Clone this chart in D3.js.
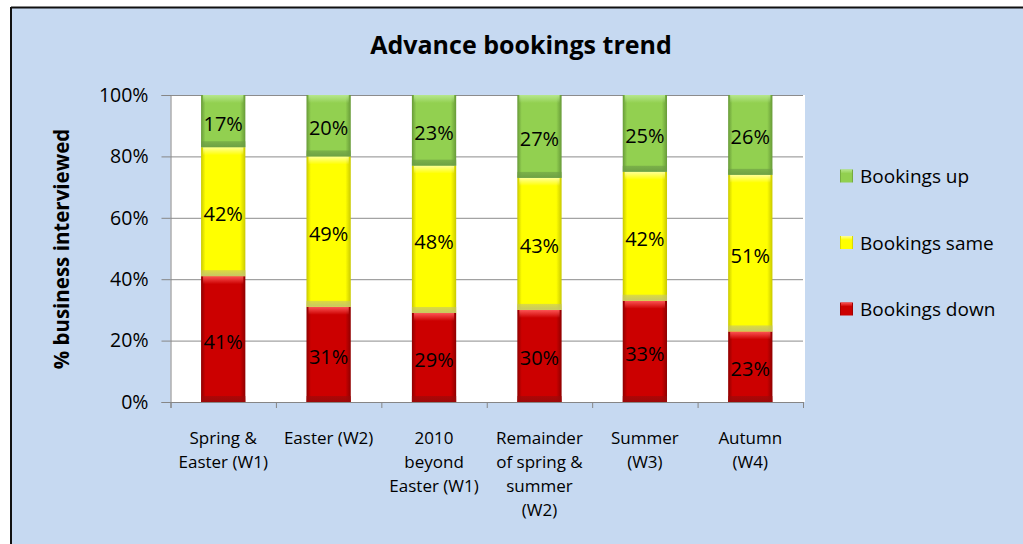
<!DOCTYPE html>
<html>
<head>
<meta charset="utf-8">
<title>Advance bookings trend</title>
<style>
  body { margin: 0; background: #fff; }
  svg { display: block; font-family: "Open Sans", sans-serif; }
  .axis path, .axis line { stroke: #868686; }
  .axis text { fill: #000; }
  .grid line { stroke: #8c8c8c; }
  .grid path { display: none; }
  .val { font-size: 20px; fill: #000; }
  .legend-text { font-size: 19px; }
</style>
</head>
<body>
<svg id="chart" width="1023" height="544"></svg>
<script src="https://cdn.jsdelivr.net/npm/d3@7"></script>
<script>
// data
const categories = ["Spring & Easter (W1)", "Easter (W2)", "2010 beyond Easter (W1)",
                    "Remainder of spring & summer (W2)", "Summer (W3)", "Autumn (W4)"];
const categoryLines = [["Spring &", "Easter (W1)"], ["Easter (W2)"], ["2010", "beyond", "Easter (W1)"],
                       ["Remainder", "of spring &", "summer", "(W2)"], ["Summer", "(W3)"], ["Autumn", "(W4)"]];
const bookingsDown = [41, 31, 29, 30, 33, 23];
const bookingsSame = [42, 49, 48, 43, 42, 51];
const bookingsUp   = [17, 20, 23, 27, 25, 26];
const seriesKeys = ["down", "same", "up"];
const seriesNames = {down: "Bookings down", same: "Bookings same", up: "Bookings up"};
const yTicks = [0, 20, 40, 60, 80, 100];

// look of each series (3D-ish bars)
const styles = {
  down: {base: "#cc0000", dark: "#8e0000", hi: "#ff5a5a", low: "#9a0a0a"},
  same: {base: "#ffff00", dark: "#c9c900", hi: "#ffffa0", low: "#c4c46a"},
  up:   {base: "#92d050", dark: "#679a38", hi: "#b8e890", low: "#6c9e44"}
};

const rows = categories.map((c, i) => ({cat: c, down: bookingsDown[i], same: bookingsSame[i], up: bookingsUp[i]}));
const stacked = d3.stack().keys(seriesKeys)(rows);

const svg = d3.select("#chart");
const W = 1023, H = 544;
const plotLeft = 170.5, plotRight = 803, plotTop = 95, plotBottom = 402;

// background + border
svg.append("rect").attr("x", 11).attr("y", 7).attr("width", W).attr("height", H)
  .attr("fill", "#c6d9f1");
svg.append("line").attr("x1", 11).attr("x2", W).attr("y1", 7.5).attr("y2", 7.5)
  .attr("stroke", "#111").attr("stroke-width", 2);
svg.append("line").attr("x1", 11).attr("x2", 11).attr("y1", 7).attr("y2", H)
  .attr("stroke", "#111").attr("stroke-width", 2);

// gradients
const defs = svg.append("defs");
seriesKeys.forEach(k => {
  const s = styles[k];
  const g = defs.append("linearGradient").attr("id", "h-" + k).attr("x1", 0).attr("x2", 1).attr("y1", 0).attr("y2", 0);
  [[0, s.dark], [0.1, s.base], [0.5, s.base], [0.88, s.base], [1, s.dark]].forEach(([o, c]) =>
    g.append("stop").attr("offset", o).attr("stop-color", c));
  const t = defs.append("linearGradient").attr("id", "t-" + k).attr("x1", 0).attr("x2", 0).attr("y1", 0).attr("y2", 1);
  t.append("stop").attr("offset", 0).attr("stop-color", s.hi).attr("stop-opacity", 0.95);
  t.append("stop").attr("offset", 1).attr("stop-color", s.hi).attr("stop-opacity", 0);
  const b = defs.append("linearGradient").attr("id", "b-" + k).attr("x1", 0).attr("x2", 0).attr("y1", 0).attr("y2", 1);
  b.append("stop").attr("offset", 0).attr("stop-color", s.low).attr("stop-opacity", 0.6);
  b.append("stop").attr("offset", 1).attr("stop-color", s.low).attr("stop-opacity", 0.95);
});

const x = d3.scaleBand().domain(categories).range([plotLeft, plotRight]).paddingInner(0.58).paddingOuter(0.29);
const xEdge = d3.scaleLinear().domain([0, categories.length]).range([plotLeft, plotRight]);
const y = d3.scaleLinear().domain([0, 100]).range([plotBottom, plotTop]);

// plot area
svg.append("rect").attr("x", plotLeft).attr("y", plotTop).attr("width", plotRight - plotLeft + 2)
  .attr("height", plotBottom - plotTop).attr("fill", "#fff");

// gridlines
svg.append("g").attr("class", "grid")
  .attr("transform", `translate(${plotLeft},0)`)
  .call(d3.axisLeft(y).tickValues(yTicks.slice(1)).tickSize(-(plotRight - plotLeft)).tickFormat(""));

// y axis
svg.append("g").attr("class", "axis")
  .attr("transform", `translate(${plotLeft},0)`)
  .call(d3.axisLeft(y).tickValues(yTicks).tickSize(9).tickPadding(13).tickFormat(d => d + "%"))
  .call(g => g.selectAll("text").style("font-size", "19.5px"))
  .attr("font-family", null).attr("font-size", null);

// x axis tick marks at category edges
svg.append("g").attr("class", "axis")
  .attr("transform", `translate(0,${plotBottom})`)
  .call(d3.axisBottom(xEdge).ticks(categories.length).tickSize(6).tickFormat(""));

// bars
const layers = svg.append("g").selectAll("g").data(stacked).join("g");
layers.each(function(layer) {
  const k = layer.key;
  const g = d3.select(this);
  g.selectAll("rect.body").data(layer).join("rect").attr("class", "body")
    .attr("x", d => x(d.data.cat)).attr("width", x.bandwidth())
    .attr("y", d => y(d[1])).attr("height", d => y(d[0]) - y(d[1]))
    .attr("fill", `url(#h-${k})`);
  g.selectAll("rect.top").data(layer).join("rect").attr("class", "top")
    .attr("x", d => x(d.data.cat) + 2).attr("width", x.bandwidth() - 4)
    .attr("y", d => y(d[1])).attr("height", 8)
    .attr("fill", `url(#t-${k})`);
  g.selectAll("rect.bot").data(layer).join("rect").attr("class", "bot")
    .attr("x", d => x(d.data.cat)).attr("width", x.bandwidth())
    .attr("y", d => y(d[0]) - 6).attr("height", 6)
    .attr("fill", `url(#b-${k})`);
  g.selectAll("text").data(layer).join("text").attr("class", "val")
    .attr("x", d => x(d.data.cat) + x.bandwidth() / 2)
    .attr("y", d => (y(d[0]) + y(d[1])) / 2 + 2)
    .attr("text-anchor", "middle").attr("dominant-baseline", "central")
    .text(d => (d[1] - d[0]) + "%");
});

// category labels
svg.append("g").selectAll("text").data(categories).join("text")
  .attr("x", d => x(d) + x.bandwidth() / 2)
  .attr("y", 444)
  .attr("text-anchor", "middle").style("font-size", "17px")
  .selectAll("tspan").data((d, i) => categoryLines[i]).join("tspan")
  .attr("x", function() { return this.parentNode.getAttribute("x"); })
  .attr("dy", (d, j) => j === 0 ? 0 : 24)
  .text(d => d);

// titles
svg.append("text").attr("x", 521).attr("y", 54).attr("text-anchor", "middle")
  .style("font-size", "25px").style("font-weight", "bold").text("Advance bookings trend");
svg.append("text").attr("transform", "translate(69,249) rotate(-90)").attr("text-anchor", "middle")
  .style("font-size", "20.5px").style("font-weight", "bold").text("% business interviewed");

// legend
const legend = svg.append("g").selectAll("g").data(seriesKeys.slice().reverse()).join("g")
  .attr("transform", (d, i) => `translate(840,${176 + i * 66.5})`);
legend.append("rect").attr("x", 0).attr("y", -6.5).attr("width", 13).attr("height", 13)
  .attr("fill", d => `url(#h-${d})`);
legend.append("rect").attr("x", 1).attr("y", -6.5).attr("width", 11).attr("height", 4)
  .attr("fill", d => `url(#t-${d})`);
legend.append("text").attr("class", "legend-text").attr("x", 20).attr("y", 0)
  .attr("dominant-baseline", "central").text(d => seriesNames[d]);
</script>
</body>
</html>
